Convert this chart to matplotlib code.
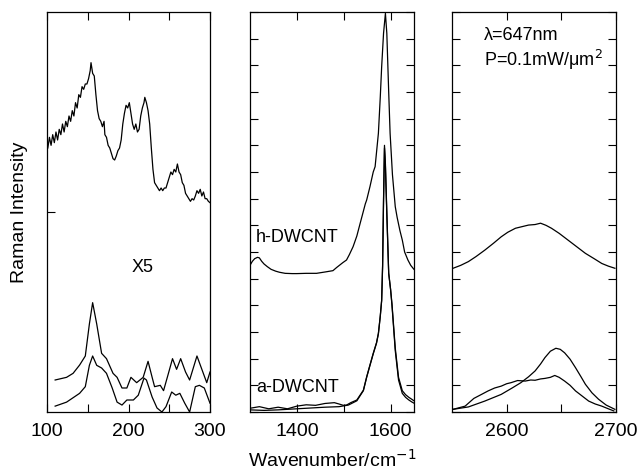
import numpy as np
import matplotlib
matplotlib.use('Agg')
import matplotlib.pyplot as plt

plt.rcParams['font.family'] = ['Liberation Sans', 'DejaVu Sans']

# RBM region (x5), upper spectrum
rbm_top_x = [101, 103, 105, 107, 109, 111, 113, 115, 117, 119, 121, 123, 125, 127, 129, 131, 133, 135,
             137, 139, 141, 143, 145, 147, 149, 151, 153, 154, 156, 158, 160, 162, 164, 166, 168, 170,
             171, 173, 175, 177, 179, 181, 183, 185, 187, 189, 191, 193, 195, 197, 199, 201, 203, 205,
             207, 209, 211, 213, 215, 217, 219, 220, 222, 224, 226, 228, 230, 232, 234, 236, 238, 240,
             242, 244, 246, 248, 250, 252, 254, 256, 258, 260, 262, 264, 266, 268, 270, 272, 274, 276,
             278, 280, 282, 284, 286, 288, 290, 292, 294, 296, 298, 300]
rbm_top_y = [9.9, 10.3, 10.0, 10.4, 10.1, 10.5, 10.2, 10.6, 10.4, 10.8, 10.5, 10.9, 10.7, 11.1, 10.9, 11.3,
             11.1, 11.6, 11.4, 11.9, 11.8, 12.2, 12.1, 12.3, 12.3, 12.5, 12.8, 13.1, 12.7, 12.6, 11.9, 11.3,
             11.0, 10.9, 10.7, 10.9, 10.4, 10.3, 10.0, 9.9, 9.7, 9.5, 9.45, 9.6, 9.8, 9.9, 10.2, 10.8,
             11.2, 11.5, 11.4, 11.6, 11.2, 10.8, 10.6, 10.8, 10.5, 10.6, 11.1, 11.4, 11.6, 11.8, 11.6, 11.3,
             10.8, 9.9, 9.1, 8.6, 8.5, 8.4, 8.3, 8.4, 8.3, 8.4, 8.4, 8.6, 8.8, 9.0, 8.9, 9.1,
             9.0, 9.3, 9.0, 8.9, 8.6, 8.5, 8.2, 8.1, 8.0, 7.9, 8.0, 7.95, 8.1, 8.3, 8.2, 8.35,
             8.1, 8.25, 8.0, 8.0, 7.9, 7.85]

# RBM region, lower spectra
rbm_a_x = [110, 124, 132, 140, 147, 152, 156, 161, 167, 173, 181, 186, 192, 198, 203, 210, 218, 224, 229,
           232, 239, 243, 249, 254, 259, 264, 270, 275, 284, 290, 296, 300]
rbm_a_y = [1.2, 1.3, 1.45, 1.76, 2.1, 3.3, 4.1, 3.3, 2.2, 2.0, 1.45, 1.3, 0.9, 0.9, 1.3, 1.1, 1.3, 1.9, 1.3,
           0.95, 1.0, 0.8, 1.45, 2.0, 1.6, 2.0, 1.5, 1.2, 2.1, 1.6, 1.1, 1.5]
rbm_b_x = [110, 124, 140, 147, 152, 156, 161, 167, 173, 180, 186, 192, 198, 206, 212, 219, 222, 229, 235,
           241, 246, 253, 258, 263, 269, 275, 282, 287, 293, 300]
rbm_b_y = [0.22, 0.37, 0.7, 0.95, 1.75, 2.1, 1.75, 1.65, 1.45, 0.9, 0.37, 0.26, 0.45, 0.45, 0.63, 1.27, 1.2,
           0.56, 0.15, 0.0, 0.2, 0.75, 0.63, 0.7, 0.33, 0.0, 0.95, 1.0, 0.9, 0.33]

# G band: h-DWCNT and two a-DWCNT traces
h_x = [1300, 1305, 1310, 1316, 1320, 1325, 1330, 1337, 1345, 1355, 1363, 1375, 1390, 1400, 1420, 1442,
       1460, 1477, 1485, 1498, 1506, 1512, 1520, 1528, 1535, 1540, 1546, 1549, 1556, 1563, 1567, 1574,
       1578, 1581, 1585, 1589, 1592, 1596, 1599, 1604, 1610, 1614, 1620, 1625, 1630, 1637, 1643, 1648, 1650]
h_y = [5.5, 5.65, 5.75, 5.8, 5.78, 5.65, 5.55, 5.45, 5.35, 5.28, 5.24, 5.2, 5.19, 5.19, 5.2, 5.2,
       5.25, 5.3, 5.42, 5.6, 5.7, 5.9, 6.2, 6.6, 7.07, 7.4, 7.8, 7.95, 8.45, 9.0, 9.2, 10.45,
       11.8, 12.95, 14.2, 14.95, 14.2, 12.0, 10.45, 8.9, 7.7, 7.3, 6.8, 6.45, 6.0, 5.7, 5.5, 5.39, 5.35]
a1_x = [1300, 1320, 1340, 1360, 1380, 1400, 1420, 1440, 1460, 1480, 1490, 1499, 1506, 1515, 1528, 1542,
        1549, 1555, 1563, 1570, 1574, 1578, 1581, 1583, 1585, 1587, 1589, 1592, 1596, 1600, 1603, 1610,
        1617, 1625, 1632, 1639, 1645, 1650]
a1_y = [0.14, 0.2, 0.12, 0.18, 0.12, 0.22, 0.27, 0.25, 0.32, 0.35, 0.3, 0.25, 0.26, 0.35, 0.45, 0.82,
        1.32, 1.7, 2.2, 2.6, 2.95, 3.6, 4.2, 5.5, 8.0, 10.0, 9.3, 7.5, 5.2, 4.6, 4.0, 2.3,
        1.2, 0.7, 0.55, 0.45, 0.38, 0.33]
a2_x = [1300, 1330, 1360, 1400, 1430, 1460, 1490, 1510, 1528, 1542, 1549, 1555, 1563, 1570, 1574, 1578,
        1581, 1583, 1585, 1587, 1589, 1592, 1596, 1600, 1603, 1610, 1617, 1625, 1632, 1639, 1645, 1650]
a2_y = [0.08, 0.06, 0.08, 0.12, 0.15, 0.18, 0.2, 0.26, 0.42, 0.8, 1.3, 1.68, 2.18, 2.58, 2.93, 3.58,
        4.18, 5.45, 7.9, 9.9, 9.2, 7.4, 5.2, 4.6, 4.05, 2.4, 1.3, 0.8, 0.65, 0.55, 0.48, 0.42]

# G' band
gp_h_x = [2551, 2558, 2565, 2572, 2580, 2588, 2595, 2601, 2608, 2614, 2620, 2626, 2631, 2636, 2641, 2648,
          2656, 2664, 2672, 2680, 2687, 2693, 2699]
gp_h_y = [5.39, 5.5, 5.64, 5.83, 6.07, 6.33, 6.57, 6.74, 6.89, 6.95, 7.01, 7.03, 7.08, 7.0, 6.89, 6.7,
          6.45, 6.2, 5.95, 5.75, 5.57, 5.47, 5.39]
gp_c_x = [2551, 2565, 2580, 2595, 2605, 2613, 2620, 2626, 2631, 2635, 2640, 2645, 2649, 2653, 2658, 2663,
          2668, 2672, 2678, 2684, 2691, 2699]
gp_c_y = [0.1, 0.19, 0.41, 0.66, 0.9, 1.1, 1.32, 1.54, 1.8, 2.04, 2.28, 2.39, 2.35, 2.22, 1.98, 1.66,
          1.32, 1.04, 0.72, 0.48, 0.26, 0.1]
gp_d_x = [2551, 2562, 2570, 2577, 2583, 2589, 2595, 2600, 2604, 2610, 2617, 2622, 2626, 2631, 2635, 2640,
          2644, 2648, 2653, 2658, 2663, 2669, 2675, 2681, 2687, 2693, 2698]
gp_d_y = [0.1, 0.22, 0.51, 0.66, 0.79, 0.9, 0.97, 1.06, 1.1, 1.18, 1.16, 1.2, 1.19, 1.24, 1.26, 1.3,
          1.37, 1.3, 1.16, 1.0, 0.79, 0.6, 0.41, 0.3, 0.22, 0.12, 0.04]

fig = plt.figure(figsize=(6.4, 4.74), dpi=100)
H = 400 / 474
B = 62 / 474
ax1 = fig.add_axes([47 / 640, B, 163 / 640, H])
ax2 = fig.add_axes([250 / 640, B, 164 / 640, H])
ax3 = fig.add_axes([452 / 640, B, 164 / 640, H])

lw = 0.9
ax1.plot(rbm_top_x, rbm_top_y, color='black', lw=lw)
ax1.plot(rbm_a_x, rbm_a_y, color='black', lw=lw)
ax1.plot(rbm_b_x, rbm_b_y, color='black', lw=lw)
ax2.plot(h_x, h_y, color='black', lw=lw)
ax2.plot(a1_x, a1_y, color='black', lw=lw)
ax2.plot(a2_x, a2_y, color='black', lw=lw)
ax3.plot(gp_h_x, gp_h_y, color='black', lw=lw)
ax3.plot(gp_c_x, gp_c_y, color='black', lw=lw)
ax3.plot(gp_d_x, gp_d_y, color='black', lw=lw)

ax1.set_xlim(100, 300)
ax2.set_xlim(1300, 1650)
ax3.set_xlim(2550, 2700)

ax1.set_xticks([100, 150, 200, 250, 300])
ax1.set_xticklabels(['100', '', '200', '', '300'])
ax2.set_xticks([1400, 1500, 1600])
ax2.set_xticklabels(['1400', '', '1600'])
ax3.set_xticks([2600, 2650, 2700])
ax3.set_xticklabels(['2600', '', '2700'])

for ax in (ax1, ax2, ax3):
    ax.set_ylim(0, 15)
    ax.tick_params(direction='in', length=6, width=0.8, top=True, right=True,
                   labelsize=14, labelleft=False, pad=8)
    for s in ax.spines.values():
        s.set_linewidth(0.9)

ax1.set_yticks([7.5])
ax1.tick_params(axis='y', right=False)
ax2.set_yticks(np.arange(0, 16, 1))
ax3.set_yticks(np.arange(0, 16, 1))

# annotations
fig.text(132 / 640, 1 - 268 / 474, 'X5', fontsize=13, va='center', ha='left')
fig.text(256 / 640, 1 - 238 / 474, 'h-DWCNT', fontsize=13, va='center', ha='left')
fig.text(256 / 640, 1 - 388 / 474, 'a-DWCNT', fontsize=13, va='center', ha='left')
fig.text(484 / 640, 1 - 35 / 474, 'λ=647nm', fontsize=13, va='center', ha='left')
fig.text(484 / 640, 1 - 60 / 474, 'P=0.1mW/μm$^2$', fontsize=13, va='center', ha='left')

fig.text(20 / 640, 1 - 212 / 474, 'Raman Intensity', fontsize=14, rotation=90,
         va='center', ha='center')
fig.text(332 / 640, 1 - 460 / 474, 'Wavenumber/cm$^{-1}$', fontsize=14,
         va='center', ha='center')

plt.savefig('out.png', dpi=100)
